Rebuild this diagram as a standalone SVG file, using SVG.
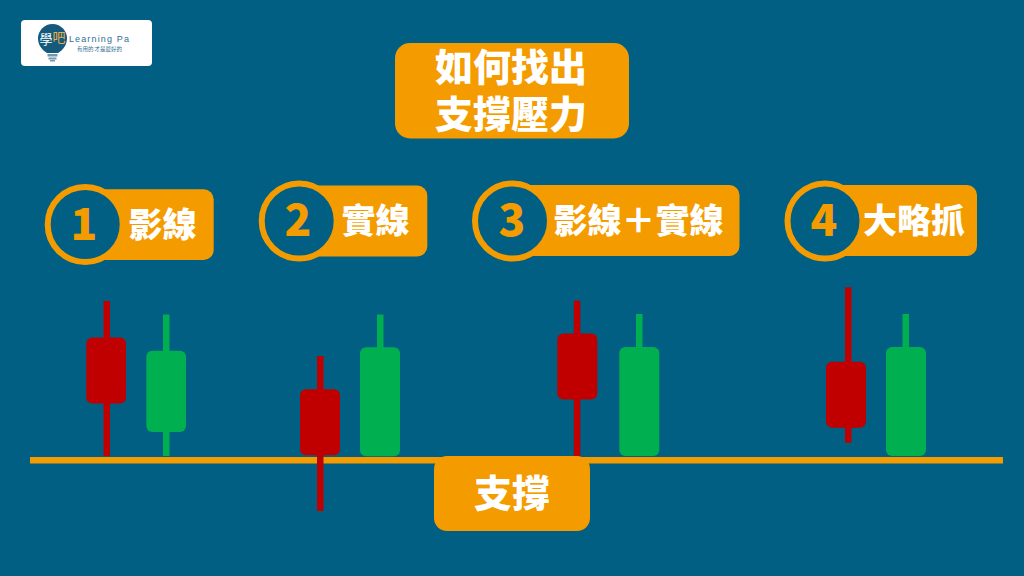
<svg xmlns="http://www.w3.org/2000/svg" width="1024" height="576" viewBox="0 0 1024 576">
<style>
text{font-family:"Noto Sans CJK TC","Noto Sans CJK SC",sans-serif;font-weight:900;text-anchor:middle}
.box{fill:#f49b00}
.ring{fill:#005f83;stroke:#f49b00;stroke-width:6}
.num{fill:#f49b00;font-size:44px}
.lbl{fill:#fff;font-size:34px}
.ttl{fill:#fff;font-size:38px}
.r{fill:#c00000}
.g{fill:#00b050}
</style>
<rect width="1024" height="576" fill="#005f83"/>
<g id="logo">
<rect x="21" y="20" width="131" height="46" rx="4" fill="#fff"/>
<path d="M47 53C42 50 38 45 38 38.500A14.500 14.500 0 0 1 67 38.500C67 45 63 50 58 53Z" fill="#155a7d"/>
<rect x="47.500" y="54" width="10" height="2.500" fill="#6f97ad"/>
<rect x="48.500" y="57.500" width="8" height="2" fill="#6f97ad"/>
<rect x="50" y="60" width="5" height="1.500" fill="#6f97ad"/>
<text x="46" y="44" font-size="13" fill="#fff" style="font-weight:400">學</text>
<text x="59" y="42" font-size="13" fill="#e8b04a" style="font-weight:400">吧</text>
<text x="99.500" y="42" font-size="9" fill="#2f6f92" letter-spacing="1.150" style="font-family:'Liberation Sans',sans-serif;font-weight:400">Learning Pa</text>
<text x="99.500" y="51" font-size="5.500" fill="#2f6f92" style="font-weight:400">有用的 才是最好的</text>
</g>
<g id="title">
<rect class="box" x="395" y="43" width="234" height="95.500" rx="15"/>
<text class="ttl"><tspan x="511" y="81">如何找出</tspan><tspan x="511" y="127.500">支撐壓力</tspan></text>
</g>
<g id="item1">
<rect class="box" x="90" y="189.300" width="123.700" height="70.700" rx="10"/>
<circle class="ring" cx="85.200" cy="224.500" r="37.500"/>
<text class="num" x="84" y="239.500">1</text>
<text class="lbl" x="162.500" y="236.500">影線</text>
</g>
<g id="item2">
<rect class="box" x="304" y="185.500" width="123.300" height="71" rx="10"/>
<circle class="ring" cx="299.200" cy="221" r="37.500"/>
<text class="num" x="298" y="236">2</text>
<text class="lbl" x="375.500" y="233">實線</text>
</g>
<g id="item3">
<rect class="box" x="517" y="185" width="222.500" height="71" rx="10"/>
<circle class="ring" cx="512.500" cy="221" r="37.500"/>
<text class="num" x="512" y="236">3</text>
<text class="lbl" x="638.500" y="233">影線＋實線</text>
</g>
<g id="item4">
<rect class="box" x="830" y="185" width="147" height="71" rx="10"/>
<circle class="ring" cx="825" cy="221" r="37.500"/>
<text class="num" x="824" y="236">4</text>
<text class="lbl" x="914" y="233">大略抓</text>
</g>
<g id="support-line">
<rect class="box" x="30" y="457" width="973" height="6.500"/>
</g>
<g id="candles1">
<rect class="r" x="103.500" y="301" width="6.500" height="155"/>
<rect class="r" x="86.300" y="337.500" width="39.700" height="66" rx="6"/>
<rect class="g" x="163" y="314.500" width="6.500" height="141.500"/>
<rect class="g" x="146.300" y="350.700" width="39.700" height="81.300" rx="6"/>
</g>
<g id="candles2">
<rect class="r" x="317" y="356" width="6.500" height="155"/>
<rect class="r" x="300" y="389.300" width="40" height="66" rx="6"/>
<rect class="g" x="377" y="314.500" width="6.500" height="40"/>
<rect class="g" x="360" y="347.300" width="40" height="109" rx="6"/>
</g>
<g id="candles3">
<rect class="r" x="573.800" y="300.700" width="6.500" height="155.300"/>
<rect class="r" x="557.300" y="333.500" width="40" height="66" rx="6"/>
<rect class="g" x="636" y="314" width="6.500" height="40"/>
<rect class="g" x="619.300" y="347" width="40" height="109" rx="6"/>
</g>
<g id="candles4">
<rect class="r" x="845" y="287.300" width="6.500" height="155.500"/>
<rect class="r" x="826" y="361.700" width="40" height="66" rx="6"/>
<rect class="g" x="902.500" y="314" width="6.500" height="40"/>
<rect class="g" x="886" y="347" width="40" height="109" rx="6"/>
</g>
<g id="support-label">
<rect class="box" x="434" y="456" width="156" height="75" rx="13"/>
<text class="ttl" x="512" y="506.500">支撐</text>
</g>
</svg>
